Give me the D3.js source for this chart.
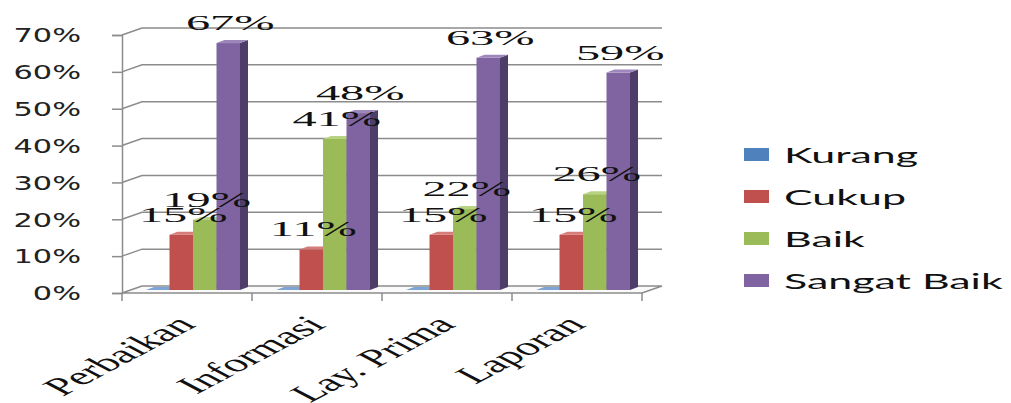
<!DOCTYPE html>
<html>
<head>
<meta charset="utf-8">
<script src="https://cdn.jsdelivr.net/npm/d3@7"></script>
<style>
  body { margin: 0; background: #fff; }
  svg { display: block; }
</style>
</head>
<body>
<script>
// chart values
const categories = ["Perbaikan", "Informasi", "Lay. Prima", "Laporan"];
const seriesNames = ["Kurang", "Cukup", "Baik", "Sangat Baik"];
const kurang = [0, 0, 0, 0];
const cukup = [15, 11, 15, 15];
const baik = [19, 41, 22, 26];
const sangatBaik = [67, 48, 63, 59];
const yTicks = [0, 10, 20, 30, 40, 50, 60, 70];

const seriesValues = [kurang, cukup, baik, sangatBaik];
const colors = {
  "Kurang": { front: "#4f81bd", side: "#34587f", top: "#7fa5d6" },
  "Cukup": { front: "#c0504d", side: "#843634", top: "#d67d7a" },
  "Baik": { front: "#9bbb59", side: "#6a823b", top: "#b8d283" },
  "Sangat Baik": { front: "#8064a2", side: "#4f3d69", top: "#9d86bb" }
};

const WIDTH = 1011;
const HEIGHT = 403;
const WALL_DX = 20, WALL_DY = -7;   // depth of the plot box
const BAR_DX = 8, BAR_DY = -3;      // depth of each bar
const SX = 2.2;                     // horizontal stretch of the original picture

const svg = d3.select("body")
  .append("svg")
  .attr("width", WIDTH)
  .attr("height", HEIGHT);

const x = d3.scaleBand()
  .domain(categories)
  .range([122, 642]);

const xs = d3.scaleBand()
  .domain(seriesNames)
  .range([24, 118]);

const y = d3.scaleLinear()
  .domain([0, 70])
  .range([293, 35]);

// bars stand a little behind the front edge
const yBar = d3.scaleLinear()
  .domain([0, 70])
  .range([290, 32]);

const grid = svg.append("g");

// floor
grid.append("path")
  .attr("d", d3.line()([
    [x.range()[0], y(0)], [x.range()[1], y(0)],
    [x.range()[1] + WALL_DX, y(0) + WALL_DY], [x.range()[0] + WALL_DX, y(0) + WALL_DY]
  ]) + "Z")
  .attr("fill", "#fafafa")
  .attr("stroke", "#8c8c8c")
  .attr("stroke-width", 1.5);

// gridlines on the left wall and back wall
grid.selectAll(".gl")
  .data(yTicks.slice(1))
  .enter()
  .append("path")
  .attr("class", "gl")
  .attr("d", d => d3.line()([
    [x.range()[0], y(d)],
    [x.range()[0] + WALL_DX, y(d) + WALL_DY],
    [x.range()[1] + WALL_DX, y(d) + WALL_DY]
  ]))
  .attr("fill", "none")
  .attr("stroke", "#8c8c8c")
  .attr("stroke-width", 1.5);

// y axis
const yAxis = svg.append("g")
  .attr("transform", `translate(${x.range()[0]},0)`)
  .call(d3.axisLeft(y).tickValues(yTicks).tickSize(10).tickFormat(d => d + "%"));

yAxis.select(".domain").attr("stroke", "#8c8c8c").attr("stroke-width", 1.5);
yAxis.selectAll(".tick line").attr("stroke", "#8c8c8c").attr("stroke-width", 1.5);
yAxis.selectAll(".tick text")
  .attr("x", 0)
  .attr("dy", "0.36em")
  .attr("transform", "translate(-41,0) scale(1.6,1)")
  .attr("fill", "#222")
  .style("font-family", "DejaVu Sans")
  .style("font-size", "19px");

// category tick marks on the front floor edge
svg.selectAll(".xt")
  .data(categories.concat(["end"]))
  .enter()
  .append("line")
  .attr("class", "xt")
  .attr("x1", (d, i) => x.range()[0] + i * x.bandwidth())
  .attr("x2", (d, i) => x.range()[0] + i * x.bandwidth())
  .attr("y1", y(0))
  .attr("y2", y(0) + 8)
  .attr("stroke", "#8c8c8c")
  .attr("stroke-width", 1.5);

// bars
const rows = [];
categories.forEach((c, i) => {
  seriesNames.forEach((s, j) => {
    rows.push({ cat: c, series: s, value: seriesValues[j][i] });
  });
});

const bar = svg.selectAll(".bar")
  .data(rows)
  .enter()
  .append("g")
  .attr("class", "bar");

const bx = d => x(d.cat) + xs(d.series);
const bw = xs.bandwidth();

bar.append("rect")
  .attr("x", d => bx(d))
  .attr("y", d => yBar(d.value))
  .attr("width", bw)
  .attr("height", d => yBar(0) - yBar(d.value))
  .attr("fill", d => colors[d.series].front);

bar.append("path")
  .attr("d", d => d3.line()([
    [bx(d) + bw, yBar(d.value)], [bx(d) + bw + BAR_DX, yBar(d.value) + BAR_DY],
    [bx(d) + bw + BAR_DX, yBar(0) + BAR_DY], [bx(d) + bw, yBar(0)]
  ]) + "Z")
  .attr("fill", d => colors[d.series].side);

bar.append("path")
  .attr("d", d => d3.line()([
    [bx(d), yBar(d.value)], [bx(d) + BAR_DX, yBar(d.value) + BAR_DY],
    [bx(d) + bw + BAR_DX, yBar(d.value) + BAR_DY], [bx(d) + bw, yBar(d.value)]
  ]) + "Z")
  .attr("fill", d => colors[d.series].top);

// data labels
svg.selectAll(".lbl")
  .data(rows.filter(d => d.value > 0))
  .enter()
  .append("text")
  .attr("class", "lbl")
  .attr("transform", d => `translate(${bx(d) + bw / 2 + 2},${yBar(d.value) - 13}) scale(${SX},1)`)
  .attr("text-anchor", "middle")
  .style("font-family", "Liberation Serif")
  .style("font-size", "22px")
  .attr("fill", "#111")
  .text(d => d.value + "%");

// category labels
svg.selectAll(".cat")
  .data(categories)
  .enter()
  .append("text")
  .attr("class", "cat")
  .attr("transform", d => `translate(${x(d) + x.bandwidth() / 2 + 10},326) scale(1.9,1) rotate(-45)`)
  .attr("text-anchor", "end")
  .style("font-family", "Liberation Serif")
  .style("font-size", "25px")
  .attr("fill", "#111")
  .text(d => d);

// legend
const legend = svg.selectAll(".leg")
  .data(seriesNames)
  .enter()
  .append("g")
  .attr("class", "leg")
  .attr("transform", (d, i) => `translate(744,${155 + i * 42})`);

legend.append("rect")
  .attr("x", 0)
  .attr("y", -7)
  .attr("width", 25)
  .attr("height", 13)
  .attr("fill", d => colors[d].front);

legend.append("text")
  .attr("transform", "translate(40,8) scale(1.95,1)")
  .style("font-family", "Lato")
  .style("font-size", "22px")
  .attr("fill", "#111")
  .text(d => d);
</script>
</body>
</html>
